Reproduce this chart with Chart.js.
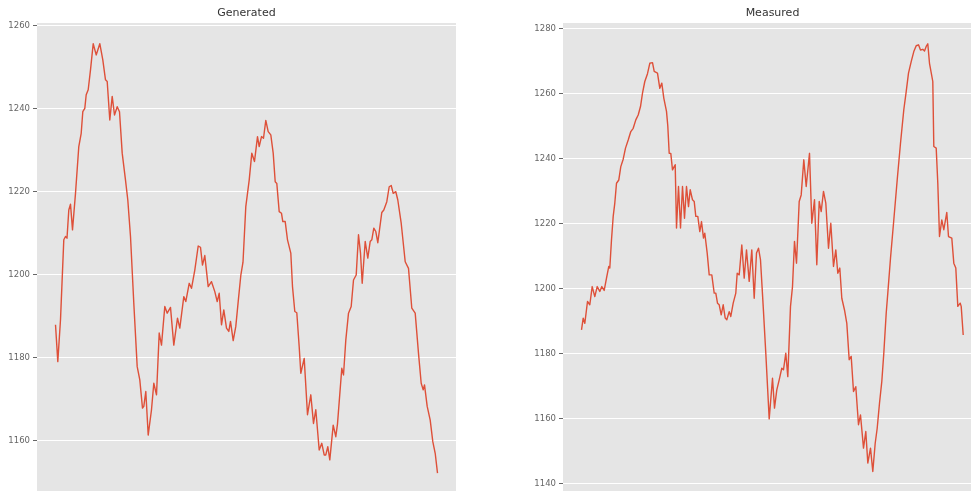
<!DOCTYPE html>
<html>
<head>
<meta charset="utf-8">
<script src="https://cdn.jsdelivr.net/npm/chart.js@4/dist/chart.umd.min.js"></script>
<style>
  html, body { margin: 0; padding: 0; background: #ffffff; overflow: hidden; width: 971px; height: 491px; }
  canvas { position: absolute; top: 0; }
  #genCanvas { left: 0; }
  #measCanvas { left: 490px; }
</style>
</head>
<body>
<canvas id="genCanvas" width="480" height="491"></canvas>
<canvas id="measCanvas" width="500" height="491"></canvas>
<script>
// Sample positions and values of the generated trace
const genX = [0, 2.3, 5, 8.3, 10, 11.5, 13.3, 15, 17, 20, 23.3, 25.7, 27.3, 29.3, 30.7, 32.7, 35, 37.7, 40.7, 44.3,
  47.3, 50, 51.7, 54.3, 56.7, 59, 61.7, 64, 66.7, 70, 72.3, 75, 78.3, 81.7, 84.3, 87, 88.3, 90.3, 92.7, 96,
  98.3, 101, 103.7, 106, 109.3, 111.7, 115, 118.3, 122, 124.3, 128.3, 130.3, 133.7, 136, 139.3, 142.7, 145, 147, 149.3, 152.7,
  156, 159.3, 161.7, 163.7, 166, 168.3, 171, 173.3, 175, 177.7, 180.3, 182.7, 185.3, 187.5, 190.3, 193.7, 196.3, 199, 202, 203.7,
  206, 208, 210.3, 212.7, 215.3, 217.7, 219.7, 221.3, 223.7, 226, 227.3, 229.7, 232, 235.3, 237, 239.3, 241.3, 243.7, 245.3, 248.7,
  252, 255.3, 258, 260.3, 263.7, 266.3, 268.7, 270.3, 272.3, 274.3, 277.7, 280.3, 282, 286.3, 288, 290.3, 293, 295.7, 298, 300.7,
  303, 305, 306.7, 309.7, 312.3, 314.7, 316.3, 318.3, 320.3, 322.3, 324, 326.3, 328.3, 331.3, 333.7, 335.7, 337.7, 340.3, 342.3, 345.7,
  349.7, 353, 356.3, 359.7, 363, 365.7, 367.7, 369, 371.7, 374.7, 377.3, 379.7, 382];
const genY = [1187.9, 1179.0, 1189.1, 1208.4, 1209.2, 1208.8, 1215.6, 1217.0, 1210.8, 1219.6, 1230.9, 1234.1, 1239.3, 1240.1, 1243.4, 1244.6, 1249.4, 1255.7, 1253.0, 1255.7,
  1251.8, 1247.0, 1246.6, 1237.3, 1243.0, 1238.5, 1240.5, 1239.3, 1229.3, 1222.8, 1218.0, 1209.2, 1193.1, 1177.8, 1174.6, 1167.8, 1168.2, 1171.8, 1161.3, 1167.4,
  1173.8, 1171.0, 1185.9, 1183.0, 1192.3, 1190.7, 1192.1, 1183.0, 1189.5, 1187.1, 1194.7, 1193.5, 1197.9, 1196.7, 1201.1, 1206.9, 1206.6, 1202.3, 1204.6, 1197.1,
  1198.3, 1195.9, 1193.5, 1195.5, 1187.9, 1191.5, 1187.1, 1186.3, 1188.7, 1184.1, 1187.5, 1193.5, 1199.8, 1203.0, 1216.4, 1222.8, 1229.3, 1227.3, 1233.3, 1230.9,
  1233.3, 1232.9, 1237.2, 1234.5, 1233.7, 1229.3, 1222.4, 1222.0, 1215.2, 1214.8, 1212.8, 1212.8, 1208.4, 1205.2, 1197.1, 1191.1, 1190.8, 1182.6, 1176.2, 1179.8,
  1166.2, 1171.0, 1164.1, 1167.4, 1157.7, 1159.3, 1156.5, 1156.5, 1158.5, 1155.3, 1163.7, 1160.9, 1164.0, 1177.4, 1175.8, 1184.2, 1190.7, 1192.3, 1198.7, 1199.9,
  1209.6, 1205.2, 1197.9, 1208.0, 1204.0, 1208.0, 1208.4, 1211.2, 1210.4, 1207.7, 1210.8, 1215.0, 1215.6, 1217.6, 1221.2, 1221.5, 1219.6, 1220.0, 1218.0, 1212.4,
  1203.1, 1201.5, 1191.9, 1190.7, 1181.0, 1173.8, 1172.2, 1173.4, 1168.2, 1164.9, 1159.7, 1156.9, 1152.1];

// Sample positions and values of the measured trace
const measX = [0, 1.7, 3.3, 6, 8.3, 10.7, 13.3, 15.7, 18.3, 20.3, 22.7, 25, 27.3, 28.3, 30, 31.7, 33.3, 35, 37.3, 39.3,
  41.7, 44, 46.7, 49.3, 51.7, 54.3, 56.7, 59, 61, 63.3, 66, 68.3, 71, 72.7, 76, 78.3, 80.3, 82.3, 85, 86.3,
  87.7, 89.3, 91, 92.7, 93.7, 95, 97, 99, 101, 103, 105, 107, 108.7, 111, 112.7, 114.3, 116.3, 118.3, 120, 122,
  123.3, 125.7, 127.7, 130.3, 132.7, 134.3, 136, 137.7, 139.7, 141.7, 143.7, 145.3, 147.7, 149.3, 151.7, 154.3, 155.7, 157.7, 160.3, 162.7,
  165, 167.7, 170.3, 172.7, 175, 177, 179, 181.7, 184.3, 187.7, 191, 193, 195.3, 197.7, 200.3, 202, 204.3, 206.3, 209, 211,
  213, 215, 217.7, 219.7, 222.3, 224.7, 228, 230.3, 233, 235.3, 237.7, 239.7, 242, 244.3, 247, 249.3, 252, 254.3, 256.3, 258.3,
  260.3, 263, 265.3, 267.7, 269.7, 272, 274.3, 277, 279, 282, 284.3, 286.3, 289, 291.3, 293.7, 295.7, 298, 300.3, 302.3, 304.7,
  306.3, 309, 312.3, 315.7, 319, 322.3, 324.7, 327, 329.7, 332.3, 334.7, 337, 339, 341.3, 343, 344.7, 346.3, 348, 351.3, 352.3,
  354.7, 356.3, 358, 360.3, 362.3, 365.3, 367, 370.3, 372.3, 374.3, 376.3, 378.7, 379.7, 381.7];
const measY = [1187.4, 1191.0, 1189.4, 1196.1, 1195.1, 1200.7, 1197.6, 1200.7, 1199.2, 1200.7, 1199.5, 1203.3, 1206.9, 1206.4, 1215.1, 1222.3, 1226.4, 1232.5, 1233.5, 1237.6,
  1239.9, 1243.3, 1245.8, 1248.4, 1249.4, 1252.0, 1253.5, 1256.1, 1260.2, 1263.8, 1266.2, 1269.4, 1269.6, 1266.9, 1266.4, 1261.7, 1263.3, 1258.7, 1254.6, 1250.1,
  1241.7, 1241.7, 1236.6, 1237.6, 1238.2, 1218.7, 1231.5, 1218.7, 1231.5, 1221.7, 1231.5, 1225.3, 1230.5, 1227.4, 1226.9, 1222.3, 1222.3, 1217.6, 1220.7, 1215.6,
  1217.1, 1211.0, 1204.3, 1204.3, 1198.7, 1198.7, 1195.6, 1195.1, 1192.0, 1195.1, 1191.0, 1190.5, 1193.0, 1191.5, 1195.6, 1198.7, 1204.8, 1204.3, 1213.5, 1203.3,
  1212.0, 1202.3, 1212.0, 1197.1, 1211.0, 1212.5, 1208.9, 1194.6, 1180.2, 1160.0, 1172.5, 1163.3, 1168.9, 1172.0, 1175.6, 1175.1, 1180.2, 1173.0, 1194.6, 1200.7,
  1214.6, 1207.9, 1226.9, 1228.9, 1239.7, 1231.5, 1241.7, 1220.2, 1227.4, 1207.4, 1226.9, 1223.8, 1230.0, 1226.4, 1212.5, 1220.2, 1206.9, 1212.0, 1204.8, 1206.4,
  1197.1, 1193.5, 1189.4, 1178.2, 1179.2, 1168.4, 1169.9, 1158.2, 1161.2, 1151.0, 1156.1, 1146.4, 1151.0, 1143.8, 1152.5, 1157.1, 1164.8, 1171.5, 1180.2, 1192.5,
  1198.7, 1209.4, 1221.2, 1233.5, 1244.8, 1255.1, 1260.7, 1266.4, 1269.9, 1273.0, 1274.8, 1275.1, 1273.5, 1273.7, 1273.2, 1274.6, 1275.4, 1269.4, 1263.8, 1243.8,
  1243.3, 1232.5, 1216.1, 1221.2, 1218.2, 1223.5, 1216.1, 1215.6, 1207.9, 1206.4, 1194.6, 1195.6, 1194.6, 1185.8];

// Panel titles and axis ranges
const titles = ['Generated', 'Measured'];
const genYRange = [1147.8, 1260.7];
const measYRange = [1137.8, 1281.8];
const xRange = [-18.5, 400.5];

const LINE_COLOR = '#DE5039';
const PANEL_BG = '#E5E5E5';

// Fills the plotting area with the grey panel colour before anything else is drawn
const panelBackground = {
  id: 'panelBackground',
  beforeDraw(chart) {
    const { ctx, chartArea: a } = chart;
    ctx.save();
    ctx.fillStyle = PANEL_BG;
    ctx.fillRect(a.left, a.top, a.right - a.left, a.bottom - a.top);
    ctx.restore();
  }
};

function makePanel(canvasId, title, xs, ys, yRange, axisWidth, padRight) {
  const points = xs.map((x, i) => ({ x: x, y: ys[i] }));
  return new Chart(document.getElementById(canvasId), {
    type: 'line',
    data: {
      datasets: [{
        data: points,
        borderColor: LINE_COLOR,
        borderWidth: 1.4,
        pointRadius: 0,
        tension: 0,
        fill: false,
        borderJoinStyle: 'round'
      }]
    },
    options: {
      responsive: false,
      animation: false,
      devicePixelRatio: 1,
      layout: { autoPadding: false, padding: { left: 0, right: padRight, top: 0, bottom: 0 } },
      plugins: {
        legend: { display: false },
        tooltip: { enabled: false },
        title: {
          display: true,
          text: title,
          fullSize: false,
          color: '#333333',
          font: { family: 'DejaVu Sans', size: 11, weight: 'normal' },
          padding: { top: 7, bottom: 2.8 }
        }
      },
      scales: {
        x: {
          type: 'linear',
          display: false,
          min: xRange[0],
          max: xRange[1]
        },
        y: {
          type: 'linear',
          min: yRange[0],
          max: yRange[1],
          afterFit(scale) {
            scale.width = axisWidth;
            scale.paddingTop = 0;
            scale.paddingBottom = 0;
          },
          border: { display: false },
          grid: {
            color: '#FFFFFF',
            lineWidth: 1,
            tickColor: '#666666',
            tickLength: 4,
            tickWidth: 1
          },
          ticks: {
            stepSize: 20,
            includeBounds: false,
            padding: 3,
            color: '#666666',
            font: { family: 'DejaVu Sans', size: 8.5 },
            callback: (v) => String(v)
          }
        }
      }
    },
    plugins: [panelBackground]
  });
}

makePanel('genCanvas', titles[0], genX, genY, genYRange, 37, 24);
makePanel('measCanvas', titles[1], measX, measY, measYRange, 73, 8);
</script>
</body>
</html>
